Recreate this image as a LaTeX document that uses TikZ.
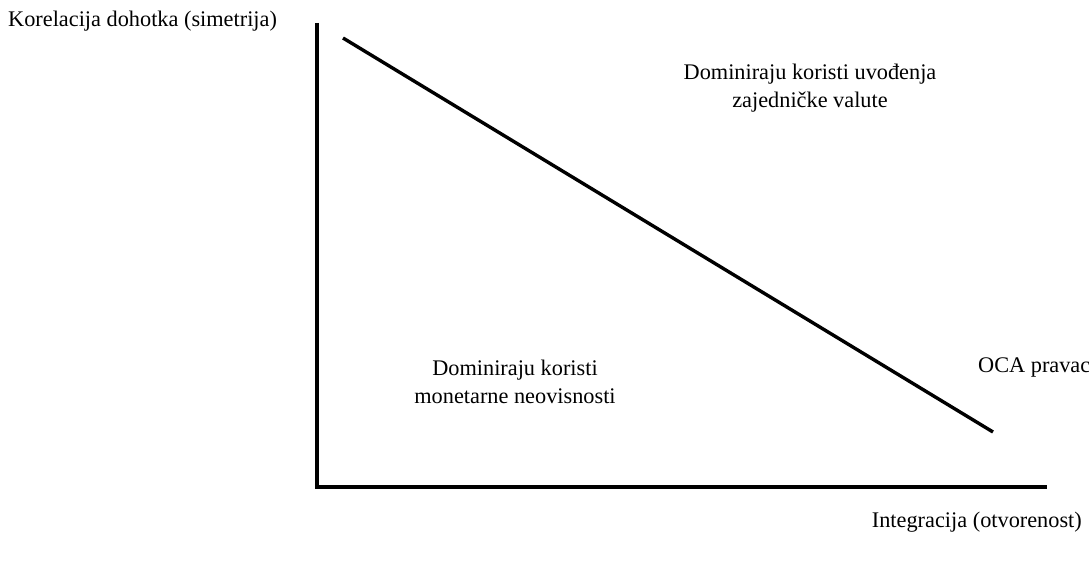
\documentclass[tikz,border=0pt]{standalone}
\usepackage{fontspec}
\setmainfont{Liberation Serif}
\begin{document}
\begin{tikzpicture}[x=1pt,y=-1pt,
  axis/.style={line width=3.4pt},
  ocaline/.style={line width=3.4pt},
  lbl/.style={font=\fontsize{22.3}{28.5}\selectfont, inner sep=0pt, align=center}]
\useasboundingbox (0,0) rectangle (1089,561);
\coordinate (ytop) at (317,23);
\coordinate (origin) at (317,487);
\coordinate (xend) at (1047,487);
\coordinate (ocaA) at (343,38);
\coordinate (ocaB) at (993,432);
\draw[axis] (ytop) -- (origin) -- (xend);
\draw[ocaline] (ocaA) -- (ocaB);
\node[lbl, anchor=west] (ylab) at (8,21) {Korelacija dohotka (simetrija)};
\node[lbl] (top) at (810,88) {Dominiraju koristi uvođenja\\zajedničke valute};
\node[lbl] (bottom) at (515,382) {Dominiraju koristi\\monetarne neovisnosti};
\node[lbl, anchor=west] (oca) at (978,367) {OCA pravac};
\node[lbl, anchor=east] (xlab) at (1082,522) {Integracija (otvorenost)};
\end{tikzpicture}
\end{document}
